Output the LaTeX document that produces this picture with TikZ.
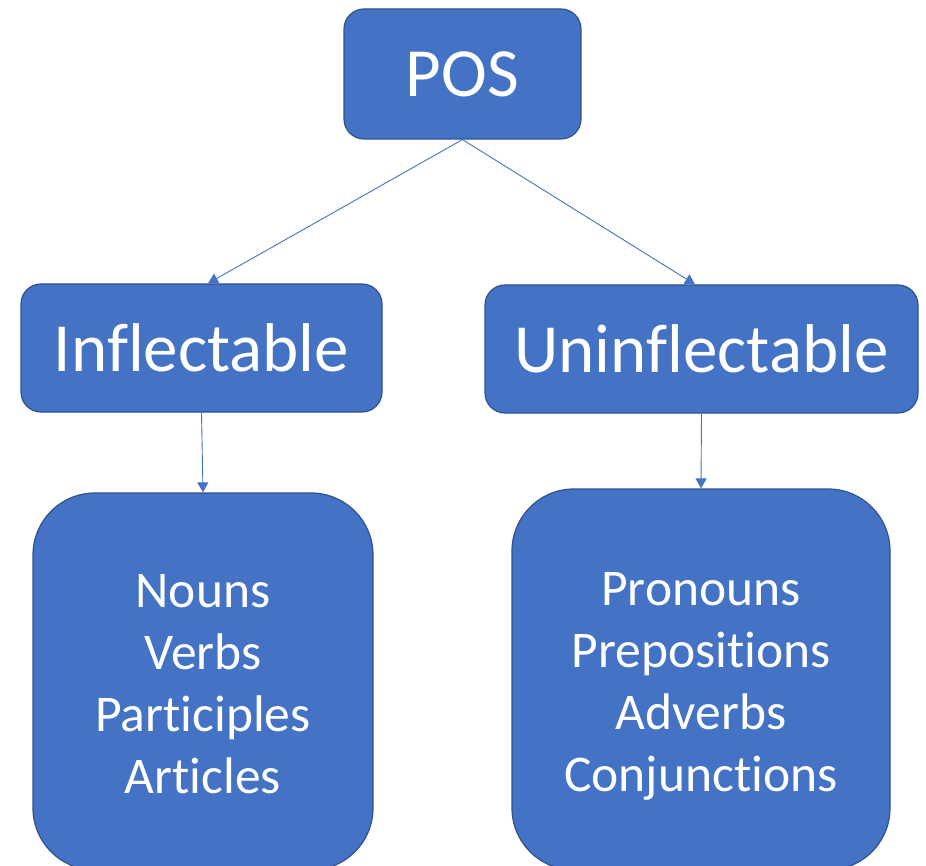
\documentclass[tikz,border=0pt]{standalone}
\usepackage{fontspec}
\setmainfont[Ligatures=NoCommon]{Carlito}
\usetikzlibrary{arrows.meta}
\definecolor{boxfill}{HTML}{4472C4}
\definecolor{boxline}{HTML}{2F528F}
\begin{document}
\begin{tikzpicture}[x=1pt,y=-1pt,
  box/.style={draw=boxline, line width=1.2pt, fill=boxfill, text=white,
    rounded corners=20pt, inner sep=0pt, minimum width=#1},
  list/.style={text=white, align=center, font=\fontsize{51.5}{62}\selectfont},
  link/.style={draw=boxfill, line width=0.9pt,
    -{Triangle[length=10pt,width=11pt]}}]
\useasboundingbox (0,0) rectangle (926,866);
\clip (0,0) rectangle (926,866);
% top level
\node[box=237pt, minimum height=130pt, font=\fontsize{69}{69}\selectfont]
  (pos) at (462.5,74) {POS};
% second level
\node[box=361pt, minimum height=128pt, font=\fontsize{69}{69}\selectfont]
  (infl) at (201.5,348) {Inflectable};
\node[box=433pt, minimum height=128pt, font=\fontsize{69}{69}\selectfont]
  (uninfl) at (701.5,349) {Uninflectable};
% word-class groups
\node[box=340pt, minimum height=377pt, rounded corners=62pt]
  (ibox) at (203,681.5) {};
\node[box=378pt, minimum height=381pt, rounded corners=62pt]
  (ubox) at (701,679.5) {};
\node[list] (iwords) at (203,684) {Nouns\\Verbs\\Participles\\Articles};
\node[list] (uwords) at (701,686) {Pronouns\\Prepositions\\Adverbs\\Conjunctions};
% connectors
\draw[link] (pos.south) -- (infl.north -| 208,0);
\draw[link] (pos.south) -- (uninfl.north -| 695,0);
\draw[link] (infl.south) -- (ibox.north);
\draw[link] (uninfl.south) -- (ubox.north);
\end{tikzpicture}
\end{document}
